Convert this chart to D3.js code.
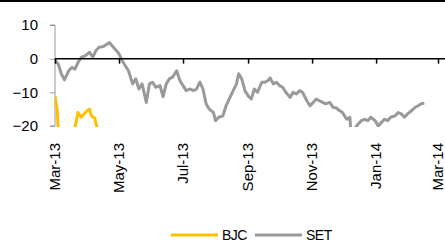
<!DOCTYPE html>
<html>
<head>
<meta charset="utf-8">
<script src="https://cdn.jsdelivr.net/npm/d3@7"></script>
<style>
  body { margin: 0; background: #fff; }
  text { font-family: Arial, "Liberation Sans", sans-serif; fill: #000; }
</style>
</head>
<body>
<div id="chart"></div>
<script>
// series values (relative performance, %)
const setDates = ["2013-03-01","2013-03-04","2013-03-07","2013-03-10","2013-03-14","2013-03-17","2013-03-20","2013-03-23","2013-03-26","2013-03-30",
  "2013-04-03","2013-04-06","2013-04-09","2013-04-12","2013-04-16","2013-04-19","2013-04-22","2013-04-25","2013-04-28","2013-05-01",
  "2013-05-04","2013-05-07","2013-05-10","2013-05-14","2013-05-17","2013-05-20","2013-05-23","2013-05-27","2013-05-30","2013-06-02",
  "2013-06-05","2013-06-09","2013-06-12","2013-06-15","2013-06-18","2013-06-21","2013-06-25","2013-06-28","2013-07-01","2013-07-04",
  "2013-07-08","2013-07-11","2013-07-14","2013-07-17","2013-07-20","2013-07-23","2013-07-26","2013-07-30","2013-08-01","2013-08-04",
  "2013-08-08","2013-08-11","2013-08-14","2013-08-17","2013-08-21","2013-08-23","2013-08-26","2013-08-29","2013-09-01","2013-09-04",
  "2013-09-07","2013-09-10","2013-09-14","2013-09-17","2013-09-20","2013-09-22","2013-09-25","2013-09-28","2013-10-01","2013-10-04",
  "2013-10-07","2013-10-11","2013-10-14","2013-10-17","2013-10-20","2013-10-23","2013-10-27","2013-10-30","2013-11-02","2013-11-05",
  "2013-11-08","2013-11-11","2013-11-14","2013-11-18","2013-11-21","2013-11-24","2013-11-27","2013-11-30","2013-12-04","2013-12-07",
  "2013-12-08","2013-12-11","2013-12-15","2013-12-18","2013-12-21","2013-12-24","2013-12-27","2013-12-31","2014-01-03","2014-01-06",
  "2014-01-09","2014-01-12","2014-01-15","2014-01-19","2014-01-22","2014-01-25","2014-01-28","2014-01-31","2014-02-04","2014-02-07",
  "2014-02-10","2014-02-13","2014-02-16"];
const setValues = [-0.6,-1.5,-4.5,-6.3,-3.6,-2.6,-3.1,-1.1,0.4,0.9,
  1.9,0.4,2.4,3.4,3.6,4.2,4.8,3.6,2.6,1.4,
  -0.6,-2.1,-3.6,-7.5,-6,-9,-7.5,-13,-7.5,-7,
  -8.5,-8,-11.3,-7.5,-6,-5.5,-3.6,-6.5,-8,-9.5,
  -9,-9.5,-9,-7,-9,-13.4,-15,-16,-18.4,-17.4,
  -17,-14,-12,-10,-7.5,-4.5,-6,-9.5,-11,-12,
  -9,-10,-7,-7,-6.5,-5.7,-7.5,-7,-8,-8.5,
  -10,-11.5,-10,-10.5,-9.5,-10,-12.5,-14,-13,-12,
  -12.5,-13,-13.4,-13,-14.5,-14.6,-15.4,-16,-18,-17.4,
  -22,-21,-19.4,-18.4,-18,-18.4,-17.4,-18.4,-20,-19,
  -18,-18.4,-17.4,-17,-16,-16.4,-17.4,-16.4,-15.4,-14.5,
  -14,-13.4,-13.2];

const bjcDates = ["2013-03-01","2013-03-03","2013-03-04","2013-03-06","2013-03-10","2013-03-14","2013-03-18","2013-03-20","2013-03-22","2013-03-23",
  "2013-03-26","2013-03-30","2013-04-01","2013-04-03","2013-04-04","2013-04-06","2013-04-08","2013-04-09","2013-04-11","2013-04-12"];
const bjcValues = [-11,-15,-20.5,-24,-27,-26,-23,-20.5,-17.4,-16,
  -17.4,-16,-15.4,-15,-16.4,-17.4,-17.6,-19.4,-21,-24];

const yTicks = [10, 0, -10, -20];
const xTickDates = ["2013-03-01","2013-05-01","2013-07-01","2013-09-01","2013-11-01","2014-01-01","2014-03-01"];
const seriesNames = ["BJC", "SET"];
const seriesColors = ["#FFC000", "#999999"];

const width = 445, height = 242;
const margin = {top: 25, left: 55, bottom: 116};
const parse = d3.timeParse("%Y-%m-%d");

let svg = d3.select("#chart").append("svg")
    .attr("width", width)
    .attr("height", height);

// black rule across the top
svg.append("line")
    .attr("x1", 0).attr("x2", width)
    .attr("y1", 1).attr("y2", 1)
    .attr("stroke", "#000")
    .attr("stroke-width", 2);

let x = d3.scaleTime()
    .domain([parse("2013-03-01"), parse("2014-03-01")])
    .range([margin.left, 438]);

let y = d3.scaleLinear()
    .domain([-20, 10])
    .range([126, margin.top]);

// y axis (grey)
let yAxis = svg.append("g")
    .attr("transform", "translate(" + margin.left + ",0)")
    .call(d3.axisLeft(y).tickValues(yTicks).tickSize(5).tickPadding(12).tickFormat(d3.format("d")));
yAxis.select(".domain").attr("stroke", "#999").attr("d", "M-5," + y(10) + "H0V" + y(-20) + "H-5");
yAxis.selectAll(".tick line").attr("stroke", "#999");
yAxis.selectAll(".tick text")
    .style("font-size", "15px")
    .style("font-family", "Arial, 'Liberation Sans', sans-serif");

// clip the lines to the plot area
svg.append("clipPath").attr("id", "plotClip")
  .append("rect")
    .attr("x", margin.left).attr("y", 0)
    .attr("width", width - margin.left).attr("height", y(-20) + 1);

let line = d3.line()
    .x(d => x(d[0]))
    .y(d => y(d[1]));

let bjc = bjcDates.map((d, i) => [parse(d), bjcValues[i]]);
let set = setDates.map((d, i) => [parse(d), setValues[i]]);

let plot = svg.append("g").attr("clip-path", "url(#plotClip)");

plot.append("path")
    .datum(bjc)
    .attr("d", line)
    .attr("fill", "none")
    .attr("stroke", seriesColors[0])
    .attr("stroke-width", 3)
    .attr("stroke-linejoin", "round");

plot.append("path")
    .datum(set)
    .attr("d", line)
    .attr("fill", "none")
    .attr("stroke", seriesColors[1])
    .attr("stroke-width", 3)
    .attr("stroke-linejoin", "round");

// zero line with month ticks
let xAxis = svg.append("g")
    .attr("transform", "translate(0," + y(0) + ")")
    .call(d3.axisBottom(x).tickValues(xTickDates.map(parse)).tickSize(5).tickFormat(""));
xAxis.select(".domain").attr("d", "M" + margin.left + ",0H" + width).attr("stroke", "#000").attr("stroke-width", 1.5);
xAxis.selectAll(".tick line").attr("stroke", "#000").attr("stroke-width", 1.5);

// rotated month labels under the plot
svg.selectAll(".xlabel")
    .data(xTickDates)
    .enter().append("text")
    .attr("class", "xlabel")
    .attr("transform", d => "translate(" + (x(parse(d)) + 5) + ",143) rotate(-90)")
    .attr("text-anchor", "end")
    .style("font-size", "15px")
    .text(d => d3.timeFormat("%b-%y")(parse(d)));

// legend
let legend = svg.append("g");
let legendX = [171, 255];
seriesNames.forEach((name, i) => {
    legend.append("line")
        .attr("x1", legendX[i]).attr("x2", legendX[i] + 47)
        .attr("y1", 235).attr("y2", 235)
        .attr("stroke", seriesColors[i])
        .attr("stroke-width", 3);
    legend.append("text")
        .attr("x", legendX[i] + 51)
        .attr("y", 240)
        .style("font-size", "14px")
        .style("letter-spacing", "-0.5px")
        .text(name);
});
</script>
</body>
</html>
